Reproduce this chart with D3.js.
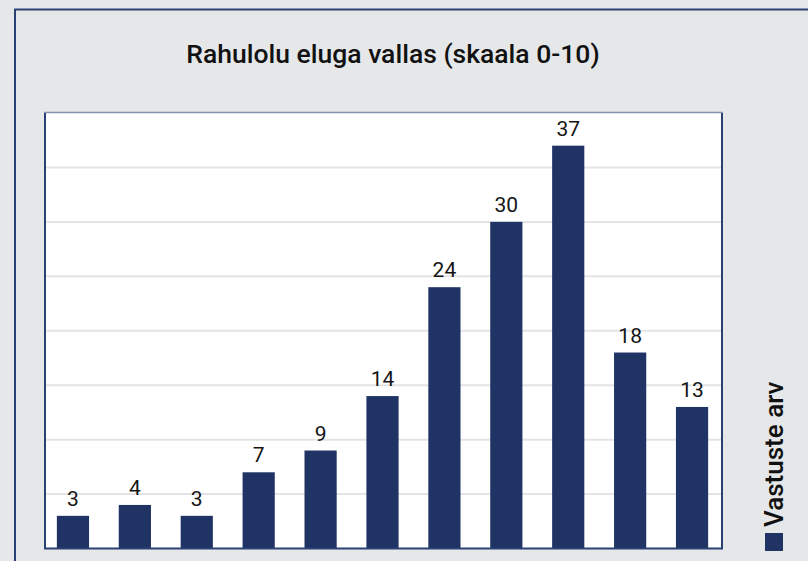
<!DOCTYPE html>
<html>
<head>
<meta charset="utf-8">
<script src="https://cdn.jsdelivr.net/npm/d3@7"></script>
<style>
	html, body { margin: 0; padding: 0; background: #e6e7e9; }
	svg { display: block; font-family: Roboto, "Noto Sans", sans-serif; }
</style>
</head>
<body>
<svg id="chart" width="808" height="561"></svg>
<script>
// data
var categories = ["0", "1", "2", "3", "4", "5", "6", "7", "8", "9", "10"];
var values = [3, 4, 3, 7, 9, 14, 24, 30, 37, 18, 13];
var yTicks = [5, 10, 15, 20, 25, 30, 35];
var title = "Rahulolu eluga vallas (skaala 0-10)";
var seriesName = "Vastuste arv";

window.onload = function() {
	var barColor = "#1f3464",
		frameColor = "#2b4075";

	var plot = {left: 45, right: 722, top: 113, bottom: 548.5};

	var svg = d3.select("#chart");

	// outer frame, runs off the right and bottom edge
	svg.append("rect")
		.attr("x", 15)
		.attr("y", 9.5)
		.attr("width", 830)
		.attr("height", 600)
		.style("fill", "#e6e7e9")
		.style("stroke", frameColor)
		.style("stroke-width", 2);

	// title
	svg.append("text")
		.attr("x", 393)
		.attr("y", 63)
		.attr("text-anchor", "middle")
		.style("font-size", "26.5px")
		.style("font-weight", 500)
		.style("fill", "#111")
		.text(title);

	var x = d3.scaleBand()
		.domain(categories)
		.range([42, 723])
		.paddingInner(0.48)
		.paddingOuter(0.24);

	var y = d3.scaleLinear()
		.domain([0, 40])
		.range([plot.bottom, plot.top]);

	// white plot area
	svg.append("rect")
		.attr("x", plot.left)
		.attr("y", plot.top)
		.attr("width", plot.right - plot.left)
		.attr("height", plot.bottom - plot.top)
		.style("fill", "white");

	// gridlines
	svg.append("g")
		.selectAll("line")
		.data(yTicks)
		.enter().append("line")
			.attr("x1", plot.left)
			.attr("x2", plot.right + 1)
			.attr("y1", function(d) { return y(d); })
			.attr("y2", function(d) { return y(d); })
			.style("stroke", "#e4e4e6")
			.style("stroke-width", 2);

	// bars
	svg.append("g")
		.selectAll("rect")
		.data(values)
		.enter().append("rect")
			.attr("x", function(d, i) { return x(categories[i]); })
			.attr("y", function(d) { return y(d); })
			.attr("width", x.bandwidth())
			.attr("height", function(d) { return y(0) - y(d); })
			.style("fill", barColor);

	// value labels
	svg.append("g")
		.selectAll("text")
		.data(values)
		.enter().append("text")
			.attr("x", function(d, i) { return x(categories[i]) + x.bandwidth() / 2; })
			.attr("y", function(d) { return y(d) - 10; })
			.attr("text-anchor", "middle")
			.style("font-size", "21px")
			.style("fill", "#151515")
			.text(function(d) { return d; });

	// plot border: top thin and lighter, others dark
	svg.append("line")
		.attr("x1", plot.left - 1).attr("x2", plot.right + 1)
		.attr("y1", plot.top - 0.5).attr("y2", plot.top - 0.5)
		.style("stroke", "#8592b0").style("stroke-width", 1.5);
	svg.append("path")
		.attr("d", "M" + plot.left + "," + plot.top + "V" + plot.bottom + "H" + plot.right + "V" + plot.top)
		.style("fill", "none")
		.style("stroke", frameColor)
		.style("stroke-width", 2);

	// legend
	var legend = svg.append("g")
		.attr("transform", "translate(774,542)");

	legend.append("rect")
		.attr("x", -9)
		.attr("y", -9)
		.attr("width", 18)
		.attr("height", 18)
		.style("fill", barColor);

	legend.append("text")
		.attr("transform", "translate(8.5,-15) rotate(-90)")
		.attr("text-anchor", "start")
		.style("font-size", "26px")
		.style("font-weight", 500)
		.style("fill", "#111")
		.text(seriesName);
};
</script>
</body>
</html>
